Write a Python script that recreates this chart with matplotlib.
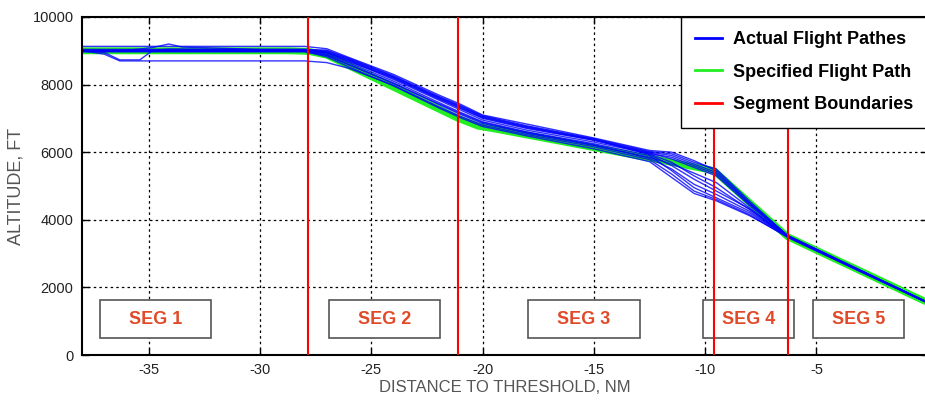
import numpy as np
import matplotlib
matplotlib.use("Agg")
import matplotlib.pyplot as plt
from matplotlib.patches import Rectangle
from matplotlib.lines import Line2D

plt.rcParams['font.family'] = ['Liberation Sans', 'DejaVu Sans']
plt.rcParams['axes.unicode_minus'] = False

# distance knots (NM) shared by all recorded flight paths
KNOTS = [-38, -37, -36.3, -35.4, -34.8, -34.1, -33.5, -30, -28, -27, -26, -24,
         -22, -21, -20, -18, -15, -12.5, -11.5, -10.5, -9.5, -8, -6.3, -3, 0]

# actual flight paths, altitude (ft) at each knot
PATHS = [
    [9000, 9000, 9000, 9000, 9000, 9000, 9000, 9000, 9000, 8950, 8700, 8150, 7550,
     7250, 6950, 6650, 6300, 5950, 5700, 5300, 4950, 4300, 3500, 2480, 1550],
    [9130, 9130, 9130, 9130, 9130, 9130, 9130, 9130, 9130, 9060, 8800, 8300, 7700,
     7420, 7100, 6830, 6420, 6050, 6000, 5750, 5450, 4500, 3540, 2500, 1560],
    [9020, 8950, 8730, 8730, 9020, 9050, 9050, 9030, 9030, 8900, 8650, 8100, 7480,
     7180, 6900, 6600, 6250, 5900, 5450, 4950, 4650, 4200, 3500, 2470, 1545],
    [9000, 9000, 9000, 9050, 9100, 9200, 9110, 9040, 9040, 8970, 8720, 8180, 7580,
     7300, 7000, 6700, 6350, 5980, 5800, 5550, 5300, 4420, 3520, 2490, 1550],
    [9000, 8900, 8700, 8700, 8700, 8700, 8700, 8700, 8700, 8650, 8480, 7980, 7350,
     7060, 6800, 6520, 6160, 5780, 5350, 4850, 4600, 4150, 3480, 2460, 1540],
    [9000, 9000, 9000, 9000, 9000, 9000, 9000, 9000, 9000, 8870, 8600, 8050, 7420,
     7120, 6850, 6560, 6200, 5850, 5650, 5380, 5100, 4350, 3510, 2475, 1548],
    [9020, 9020, 9020, 9020, 9020, 9020, 9020, 9020, 9020, 9000, 8780, 8260, 7660,
     7380, 7080, 6780, 6400, 6020, 5950, 5700, 5500, 4550, 3530, 2495, 1556],
    [8980, 8980, 8980, 8980, 8980, 8980, 8980, 8980, 8980, 8820, 8520, 7960, 7320,
     7020, 6760, 6480, 6100, 5720, 5250, 4780, 4560, 4120, 3500, 2465, 1542],
    [9000, 9000, 9000, 9000, 9000, 9000, 9000, 9000, 9000, 8930, 8680, 8200, 7600,
     7300, 7020, 6720, 6360, 5960, 5850, 5600, 5350, 4460, 3525, 2488, 1552],
    [9040, 9040, 9040, 9040, 9040, 9040, 9040, 9040, 9040, 9020, 8760, 8240, 7640,
     7360, 7060, 6760, 6380, 6000, 5900, 5650, 5400, 4480, 3535, 2492, 1554],
    [8970, 8970, 8970, 8970, 8970, 8970, 8970, 8970, 8970, 8860, 8580, 8030, 7440,
     7150, 6880, 6580, 6220, 5820, 5500, 5050, 4750, 4250, 3495, 2468, 1544],
    [9010, 9010, 9010, 9010, 9010, 9010, 9010, 9010, 9010, 8960, 8740, 8220, 7620,
     7340, 7040, 6740, 6370, 5930, 5600, 5200, 4850, 4320, 3505, 2478, 1549],
]

# specified flight path
SPEC_X = [-38, -28.6, -27.8, -27.0, -21.1, -20.2, -19.4, -12.3, -9.6, -6.3, 0]
SPEC_ALT = [9000, 9000, 8980, 8870, 7000, 6770, 6680, 5800, 5450, 3500, 1550]

# segment boundaries (NM)
SEG_BOUNDS = [-27.85, -21.1, -9.6, -6.3]

# segment label boxes
SEG_LABELS = ['SEG 1', 'SEG 2', 'SEG 3', 'SEG 4', 'SEG 5']
SEG_CENTERS = [-34.7, -24.4, -15.45, -8.05, -3.1]
SEG_WIDTHS = [5.0, 5.0, 5.0, 4.1, 4.1]

fig = plt.figure(figsize=(9.25, 4.01), dpi=100)
ax = fig.add_axes([0.0886, 0.1147, 0.9144, 0.843])

ax.plot(SPEC_X, SPEC_ALT, color='#22ee22', lw=5, solid_capstyle='butt', zorder=2)
for alt in PATHS:
    ax.plot(KNOTS, alt, color='#0000ff', lw=1.0, alpha=0.8, zorder=2.2)
for xb in SEG_BOUNDS:
    ax.axvline(xb, color='#ff0000', lw=1.5, zorder=3)

for lab, xc, w in zip(SEG_LABELS, SEG_CENTERS, SEG_WIDTHS):
    ax.add_patch(Rectangle((xc - w / 2, 500), w, 1130, facecolor='white',
                           edgecolor='#555555', lw=1.2, zorder=2.5))
    ax.text(xc, 1065, lab, ha='center', va='center', fontsize=13,
            fontweight='bold', color='#e04a28', zorder=2.6)

ax.set_xlim(-38, 0)
ax.set_ylim(0, 10000)
ax.set_xticks([-35, -30, -25, -20, -15, -10, -5, 0])
ax.set_xticklabels(['-35', '-30', '-25', '-20', '-15', '-10', '-5', ''])
ax.set_yticks([0, 2000, 4000, 6000, 8000, 10000])
ax.grid(True, color='black', ls=(0, (2, 2.5)), lw=0.9, zorder=1)
ax.set_axisbelow(True)
ax.tick_params(direction='in', top=True, right=True, length=5, width=1,
               labelsize=10.5, labelcolor='#222222', pad=6)
for sp in ax.spines.values():
    sp.set_linewidth(1.5)

ax.set_xlabel('DISTANCE TO THRESHOLD, NM', fontsize=12, color='#555555', labelpad=2)
ax.set_ylabel('ALTITUDE, FT', fontsize=13, color='#555555', labelpad=6)

handles = [Line2D([], [], color='#0000ff', lw=2),
           Line2D([], [], color='#22ee22', lw=2),
           Line2D([], [], color='#ff0000', lw=2)]
leg = ax.legend(handles, ['Actual Flight Pathes', 'Specified Flight Path',
                          'Segment Boundaries'],
                loc='upper right', borderaxespad=0, fancybox=False,
                framealpha=1, edgecolor='black', handlelength=1.5,
                handletextpad=0.6, labelspacing=0.85, borderpad=0.8,
                prop={'weight': 'bold', 'size': 13})
leg.get_frame().set_linewidth(1)
leg.set_zorder(5)

fig.savefig('out.png', dpi=100)
